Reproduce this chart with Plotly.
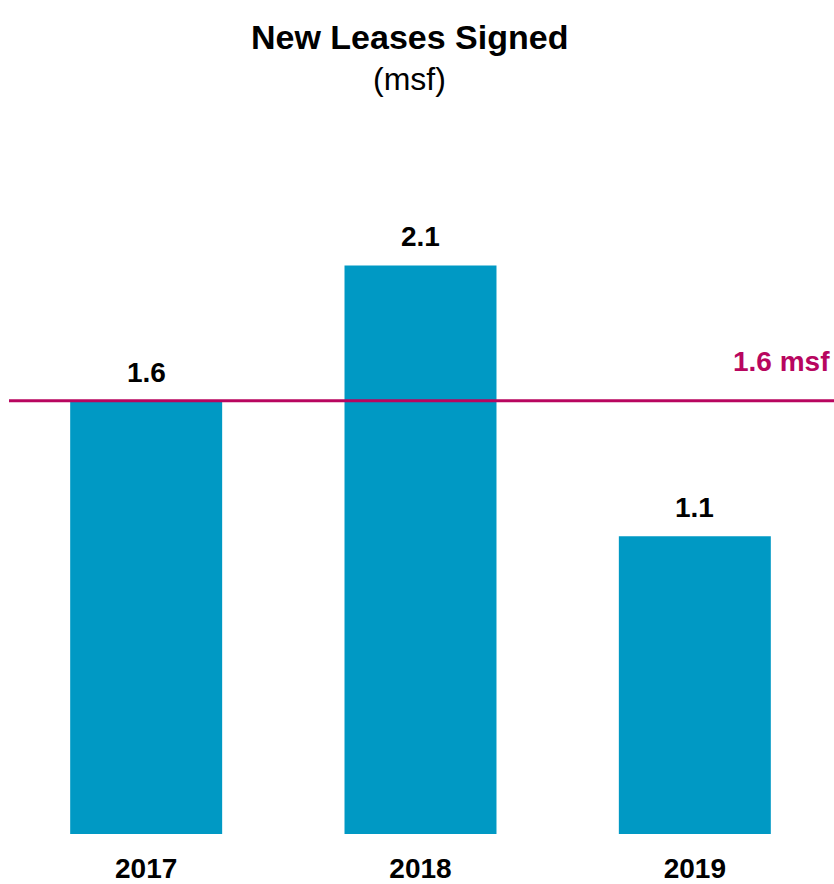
import plotly.graph_objects as go

years = ["2017", "2018", "2019"]
leases = [1.6, 2.1, 1.1]
avg_value = 1.6
avg_label = "1.6 msf"
title_main = "New Leases Signed"
title_sub = "(msf)"

BAR = "#0099C4"
MAG = "#B8065F"
FONT = "Liberation Sans, Arial, sans-serif"

fig = go.Figure()
fig.add_trace(go.Bar(x=years, y=leases, marker=dict(color=BAR, line=dict(width=0)),
                     hoverinfo="skip"))

for i, v in enumerate(leases):
    fig.add_annotation(x=i, y=v, text=f"<b>{v:.1f}</b>", showarrow=False,
                       yanchor="bottom", yshift=11,
                       font=dict(family=FONT, size=28, color="#000000"))

# average line
fig.add_shape(type="line", xref="paper", yref="y", x0=0, x1=1.003, y0=avg_value, y1=avg_value,
              line=dict(color=MAG, width=3), layer="above")
fig.add_annotation(xref="paper", yref="y", x=1.0, y=avg_value, text=f"<b>{avg_label}</b>",
                   showarrow=False, xanchor="right", yanchor="bottom", yshift=22,
                   font=dict(family=FONT, size=28, color=MAG))

# titles
fig.add_annotation(xref="paper", yref="paper", x=0.487, y=1, yshift=42, text=f"<b>{title_main}</b>",
                   showarrow=False, xanchor="center", yanchor="bottom",
                   font=dict(family=FONT, size=34, color="#000000"))
fig.add_annotation(xref="paper", yref="paper", x=0.487, y=1, yshift=1, text=title_sub,
                   showarrow=False, xanchor="center", yanchor="bottom",
                   font=dict(family=FONT, size=32, color="#000000"))

fig.update_layout(
    width=834, height=884,
    margin=dict(l=9, r=2, t=100, b=50, autoexpand=False),
    paper_bgcolor="white", plot_bgcolor="white",
    bargap=0.446, showlegend=False,
    xaxis=dict(type="category", range=[-0.5, 2.5], automargin=False,
               showgrid=False, showline=False, zeroline=False, ticks="",
               tickfont=dict(family=FONT, size=28, color="#000000"), tickangle=0,
               tickvals=[0, 1, 2], ticktext=[f"<b>{y}</b>" for y in years],
               ticklabelstandoff=15),
    yaxis=dict(range=[0, 2.711], visible=False, showgrid=False, zeroline=False),
)

fig.write_html("out.html", config={"displayModeBar": False},
               post_script="document.body.style.margin='0';document.body.style.overflow='hidden';")
